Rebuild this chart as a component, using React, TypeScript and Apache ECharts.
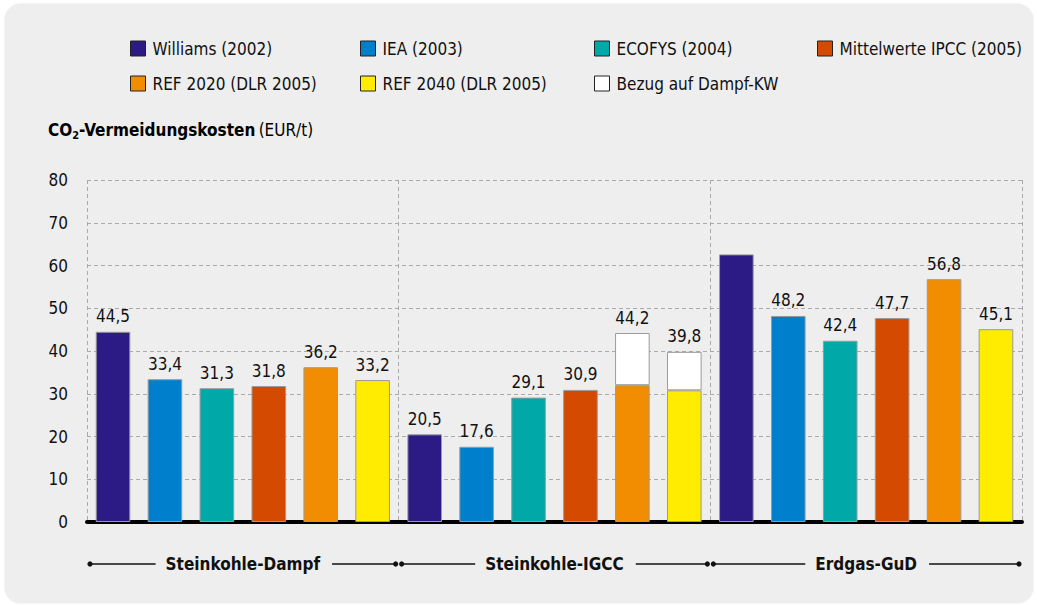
import React, { useEffect, useRef } from "react";
import * as echarts from "echarts";

// Power plant types (x categories)
const groups = ["Steinkohle-Dampf", "Steinkohle-IGCC", "Erdgas-GuD"];

// CO2 avoidance costs in EUR/t per study
const williams = [44.5, 20.5, 62.6];
const iea = [33.4, 17.6, 48.2];
const ecofys = [31.3, 29.1, 42.4];
const ipcc = [31.8, 30.9, 47.7];
const ref2020 = [36.2, 32.0, 56.8];
const ref2040 = [33.2, 30.8, 45.1];
// Extra cost when referenced to a steam power plant (stacked on REF bars)
const dampfKw2020 = [null, 12.2, null];
const dampfKw2040 = [null, 9.0, null];

// Which bars carry a value label
const williamsLabelled = [true, true, false];

// Value axis
const yMin = 0;
const yMax = 80;
const yStep = 10;

const FONT = "'Liberation Sans Narrow', 'DejaVu Sans Condensed', 'Roboto Condensed', 'Noto Sans', sans-serif";
const TEXT = "#111111";
const BORDER = "#9a9a9a";

const fmt = (v: number) => v.toFixed(1).replace(".", ",");

export default function App() {
  const ref = useRef<HTMLDivElement>(null);

  useEffect(() => {
    if (!ref.current) return;
    const chart = echarts.init(ref.current, null, { renderer: "svg" });

    const labelStyle = {
      show: true,
      position: "top" as const,
      distance: 7,
      fontFamily: FONT,
      fontSize: 17,
      color: TEXT,
      formatter: (p: any) => fmt(p.value),
    };

    const plain = (name: string, values: number[], color: string, stack: string, shown?: boolean[]) => ({
      name,
      type: "bar",
      stack,
      data: values.map((v, i) => ({ value: v, label: { show: shown ? shown[i] : true } })),
      itemStyle: { color, borderColor: BORDER, borderWidth: 1 },
      label: labelStyle,
    });

    // REF bars: base value, labelled only when nothing is stacked on top
    const base = (name: string, values: number[], extra: (number | null)[], color: string, stack: string) => ({
      name,
      type: "bar",
      stack,
      data: values.map((v, i) => ({ value: v, label: { show: extra[i] == null } })),
      itemStyle: { color, borderColor: BORDER, borderWidth: 1 },
      label: labelStyle,
    });

    const addOn = (values: (number | null)[], under: number[], stack: string) => ({
      name: "Bezug auf Dampf-KW",
      type: "bar",
      stack,
      data: values.map((v) => (v == null ? "-" : v)),
      itemStyle: { color: "#ffffff", borderColor: BORDER, borderWidth: 1 },
      label: {
        ...labelStyle,
        formatter: (p: any) => fmt(under[p.dataIndex] + p.value),
      },
    });

    const series = [
      plain("Williams (2002)", williams, "#2d1b85", "s1", williamsLabelled),
      plain("IEA (2003)", iea, "#0080cc", "s2"),
      plain("ECOFYS (2004)", ecofys, "#00a8a8", "s3"),
      plain("Mittelwerte IPCC (2005)", ipcc, "#d44a00", "s4"),
      base("REF 2020 (DLR 2005)", ref2020, dampfKw2020, "#f28c00", "s5"),
      base("REF 2040 (DLR 2005)", ref2040, dampfKw2040, "#ffec00", "s6"),
      addOn(dampfKw2020, ref2020, "s5"),
      addOn(dampfKw2040, ref2040, "s6"),
    ];
    series[0] = { ...series[0], barCategoryGap: "5.6%", barGap: "50%" } as any;

    const legendCommon = {
      orient: "vertical" as const,
      top: 40,
      padding: 0,
      itemWidth: 15,
      itemHeight: 15,
      itemGap: 18,
      icon: "rect",
      itemStyle: { borderColor: "#222222", borderWidth: 1 },
      textStyle: { fontFamily: FONT, fontSize: 17, color: TEXT, padding: [0, 0, 0, 2] },
    };

    chart.setOption({
      animation: false,
      textStyle: { fontFamily: FONT },
      legend: [
        { ...legendCommon, left: 130, data: ["Williams (2002)", "REF 2020 (DLR 2005)"] },
        { ...legendCommon, left: 360, data: ["IEA (2003)", "REF 2040 (DLR 2005)"] },
        { ...legendCommon, left: 594, data: ["ECOFYS (2004)", "Bezug auf Dampf-KW"] },
        { ...legendCommon, left: 817, data: ["Mittelwerte IPCC (2005)"] },
      ],
      grid: { left: 87, right: 15, top: 180, bottom: 83, containLabel: false },
      xAxis: {
        type: "category",
        data: groups,
        axisLine: { show: true, lineStyle: { color: "#000000", width: 4 } },
        axisTick: { show: false },
        splitLine: { show: true, lineStyle: { color: "#aaaaaa", type: [4, 3], width: 1 } },
        axisLabel: {
          margin: 33,
          fontFamily: FONT,
          fontSize: 17,
          fontWeight: "bold",
          color: TEXT,
        },
      },
      yAxis: {
        type: "value",
        min: yMin,
        max: yMax,
        interval: yStep,
        axisLine: { show: false },
        axisTick: { show: false },
        splitLine: { show: true, lineStyle: { color: "#aaaaaa", type: [4, 3], width: 1 } },
        axisLabel: { margin: 19, fontFamily: FONT, fontSize: 17, color: TEXT },
      },
      series,
    });

    // Bracket lines with end dots around each group name
    const canvas = document.createElement("canvas");
    const ctx = canvas.getContext("2d")!;
    ctx.font = `bold 17px ${FONT}`;
    const c0 = chart.convertToPixel({ xAxisIndex: 0 }, 0) as number;
    const c1 = chart.convertToPixel({ xAxisIndex: 0 }, 1) as number;
    const band = c1 - c0;
    const yLine = chart.convertToPixel({ yAxisIndex: 0 }, yMin) as number;
    const ly = yLine + 42;
    const brackets: any[] = [];
    groups.forEach((g, i) => {
      const c = chart.convertToPixel({ xAxisIndex: 0 }, i) as number;
      const half = ctx.measureText(g).width / 2;
      const x0 = c - band / 2 + 3;
      const x1 = c + band / 2 - 3;
      const stroke = { stroke: "#111111", lineWidth: 1.3 };
      brackets.push(
        { type: "line", shape: { x1: x0, y1: ly, x2: c - half - 10, y2: ly }, style: stroke, silent: true },
        { type: "line", shape: { x1: c + half + 12, y1: ly, x2: x1, y2: ly }, style: stroke, silent: true },
        { type: "circle", shape: { cx: x0, cy: ly, r: 2.6 }, style: { fill: "#111111" }, silent: true },
        { type: "circle", shape: { cx: x1, cy: ly, r: 2.6 }, style: { fill: "#111111" }, silent: true }
      );
    });

    chart.setOption({
      graphic: [
        {
          type: "text",
          left: 48,
          top: 121,
          silent: true,
          style: {
            text: "{b|CO}{sub|2}{b|-Vermeidungskosten} {n|(EUR/t)}",
            rich: {
              b: { fontFamily: FONT, fontSize: 17, fontWeight: "bold", color: TEXT, lineHeight: 22 },
              sub: { fontFamily: FONT, fontSize: 11, fontWeight: "bold", color: TEXT, lineHeight: 12, verticalAlign: "bottom" },
              n: { fontFamily: FONT, fontSize: 17, color: TEXT, lineHeight: 22 },
            },
          },
        },
        ...brackets,
      ],
    });

    return () => chart.dispose();
  }, []);

  return (
    <div style={{ position: "fixed", left: 0, top: 0, width: 1037, height: 605, background: "#ffffff" }}>
      <div
        style={{
          position: "absolute",
          left: 5,
          top: 4,
          width: 1028,
          height: 599,
          background: "#eeeeee",
          borderRadius: 16,
          boxShadow: "0 0 2px rgba(0,0,0,0.15)",
        }}
      />
      <div ref={ref} style={{ position: "absolute", left: 0, top: 0, width: 1037, height: 605 }} />
    </div>
  );
}
